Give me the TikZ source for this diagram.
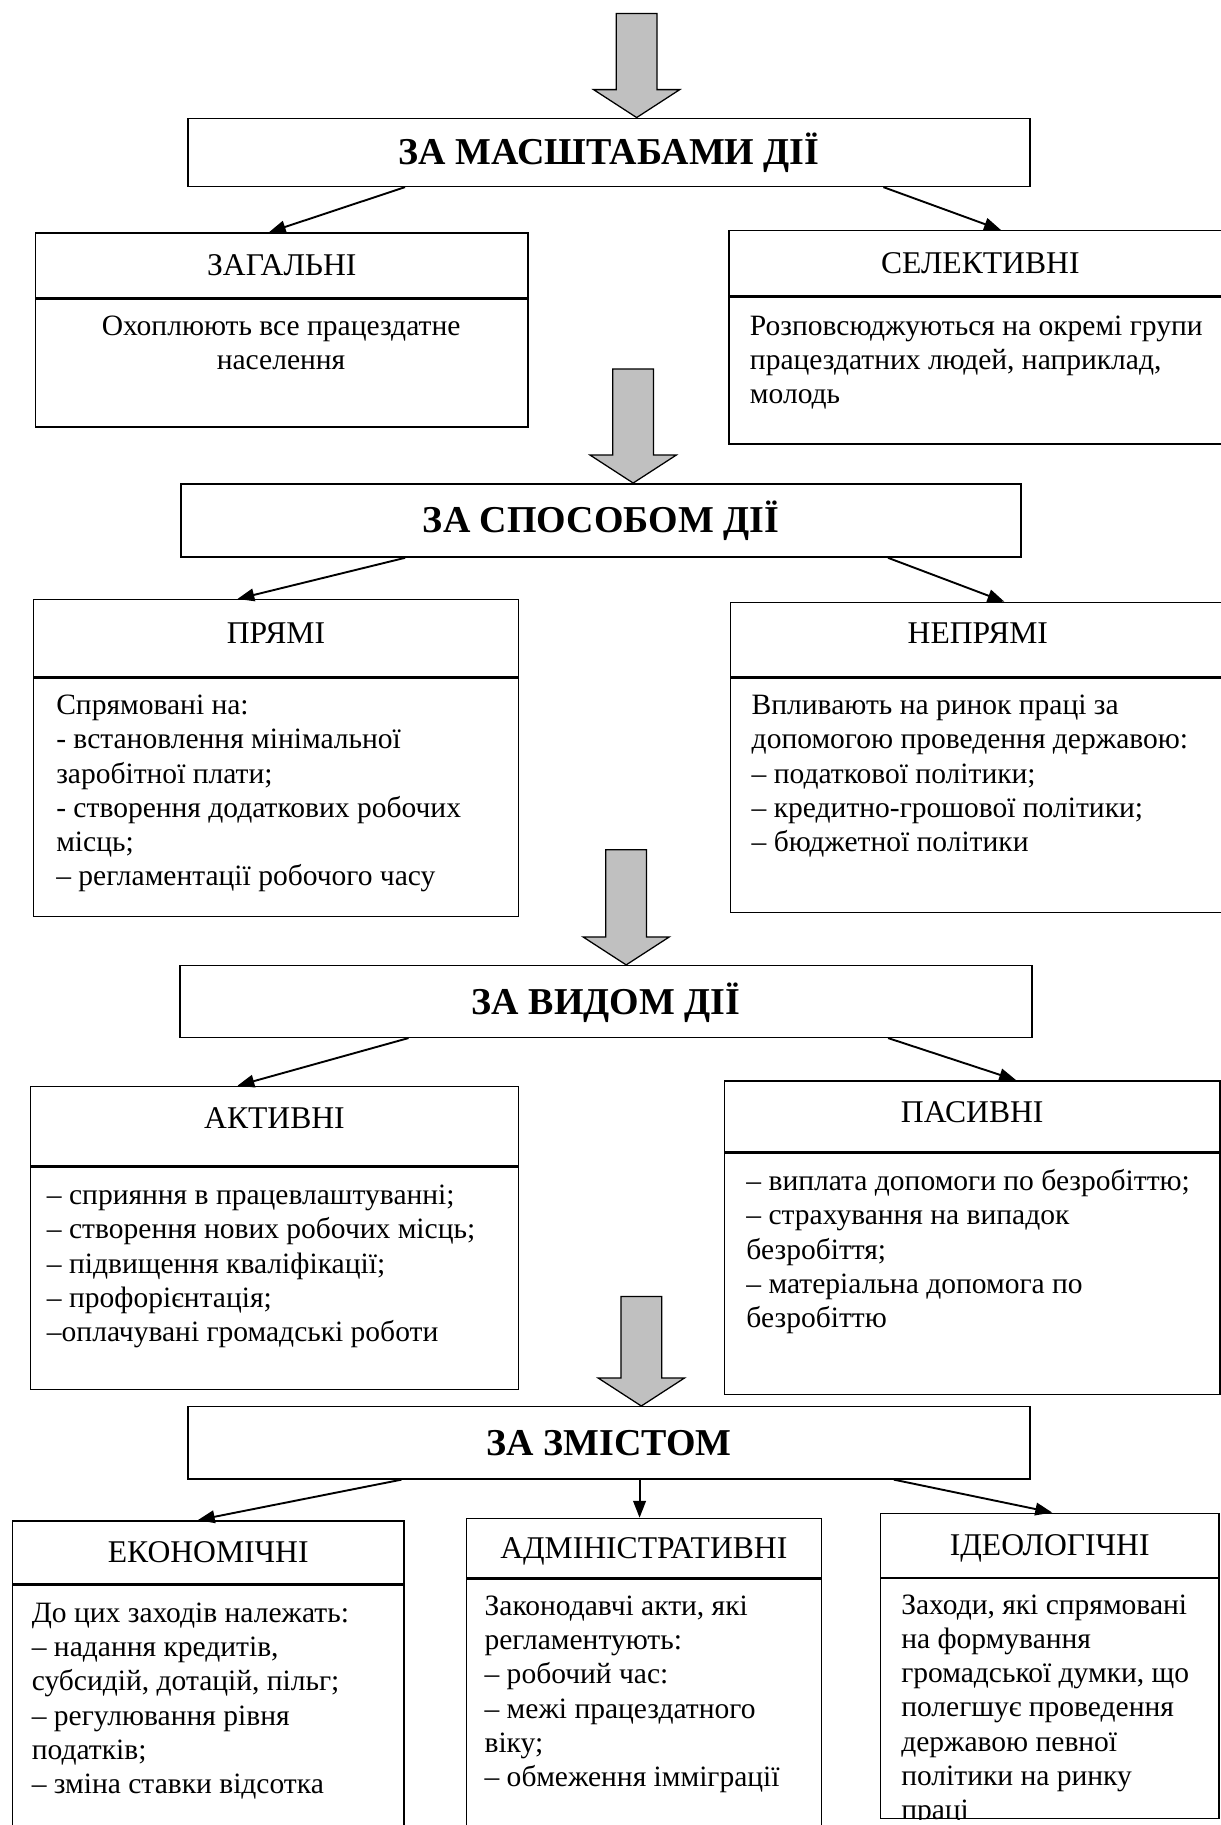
\documentclass[tikz,border=0pt]{standalone}
\usepackage{fontspec}
\setmainfont{Liberation Serif}
\usepackage{tikz}
\usetikzlibrary{arrows.meta,positioning}
\definecolor{arrgray}{RGB}{192,192,192}
\newlength{\px}
\setlength{\px}{0.552pt}
\newcommand{\grayarrow}[3]{%
  \draw[bigarr] (#1,0 |- #2.north) -- ++(-37,-24) -- ++(19.5,0) -- ++(0,{-(#3-24)})
    -- ++(35,0) -- ++(0,{#3-24}) -- ++(19.5,0) -- cycle;}

\begin{document}
\begin{tikzpicture}[
  x=0.552pt, y=-0.552pt,
  ttl/.style={
    draw,
    line width=0.7pt,
    anchor=north west,
    inner sep=0pt,
    text height=11.9pt,
    text depth=0pt,
    font=\bfseries\fontsize{18}{21}\selectfont
  },
  hdr/.style={
    draw,
    line width=0.7pt,
    anchor=north west,
    inner sep=0pt,
    text height=9.9pt,
    text depth=0pt,
    font=\fontsize{15}{17.3}\selectfont
  },
  bodybox/.style={draw, line width=0.7pt, inner sep=0pt},
  txt/.style={
    anchor=north west,
    inner sep=0pt,
    align=left,
    font=\fontsize{14}{16.2}\selectfont
  },
  conn/.style={-{Triangle[length=8pt,width=6pt]}, line width=0.9pt},
  bigarr/.style={draw, fill=arrgray, line width=0.6pt, line join=miter}
]
\path[use as bounding box, fill=white] (0,0) rectangle (1049,1568);

\node[ttl, minimum width=723.5\px, minimum height=58.5\px] (masht) at (161,101) {ЗА МАСШТАБАМИ ДІЇ};
\node[hdr, minimum width=423\px, minimum height=55.4\px] (zag) at (30,199.6) {ЗАГАЛЬНІ};
\node[bodybox, minimum width=423\px, minimum height=110\px, below=0pt of zag] (zagb) {};
\node[txt, align=center, anchor=north] (zagt) at (241.5,267) {\strut Охоплюють все працездатне\\населення};
\node[hdr, minimum width=432\px, minimum height=56\px] (sel) at (625.6,197.6) {СЕЛЕКТИВНІ};
\node[bodybox, minimum width=432\px, minimum height=126\px, below=0pt of sel] (selb) {};
\node[txt] (selt) at (644,267) {\strut Розповсюджуються на окремі групи\\працездатних людей, наприклад,\\молодь};

\node[ttl, minimum width=721.5\px, minimum height=63\px] (spos) at (155,415) {ЗА СПОСОБОМ ДІЇ};
\node[hdr, minimum width=417\px, minimum height=66\px, text depth=4.4pt] (pry) at (28,514.6) {ПРЯМІ};
\node[bodybox, minimum width=417\px, minimum height=205\px, below=0pt of pry] (pryb) {};
\node[txt] (pryt) at (48,593.2) {\strut Спрямовані на:\\- встановлення мінімальної\\заробітної плати;\\- створення додаткових робочих\\місць;\\– регламентації робочого часу};
\node[hdr, minimum width=425\px, minimum height=64\px, text depth=6pt] (nepr) at (627,517) {НЕПРЯМІ};
\node[bodybox, minimum width=425\px, minimum height=201\px, below=0pt of nepr] (neprb) {};
\node[txt] (neprt) at (645.5,593.2) {\strut Впливають на ринок праці за\\допомогою проведення державою:\\– податкової політики;\\– кредитно-грошової політики;\\– бюджетної політики};

\node[ttl, minimum width=732\px, minimum height=61.6\px] (vyd) at (154,829) {ЗА ВИДОМ ДІЇ};
\node[hdr, minimum width=419.6\px, minimum height=68.2\px, text depth=7.2pt] (akt) at (25.4,932.8) {АКТИВНІ};
\node[bodybox, minimum width=419.6\px, minimum height=191\px, below=0pt of akt] (aktb) {};
\node[txt] (aktt) at (40,1014.2) {\strut – сприяння в працевлаштуванні;\\– створення нових робочих місць;\\– підвищення кваліфікації;\\– профорієнтація;\\–оплачувані громадські роботи};
\node[hdr, minimum width=425.4\px, minimum height=61\px, text depth=3.9pt] (pas) at (622,928) {ПАСИВНІ};
\node[bodybox, minimum width=425.4\px, minimum height=207\px, below=0pt of pas] (pasb) {};
\node[txt] (past) at (641,1002.2) {\strut – виплата допомоги по безробіттю;\\– страхування на випадок\\безробіття;\\– матеріальна допомога по\\безробіттю};

\node[ttl, minimum width=723.5\px, minimum height=62\px] (zmist) at (161,1208) {ЗА ЗМІСТОМ};
\node[hdr, minimum width=336.5\px, minimum height=54.4\px] (ekon) at (10,1306) {ЕКОНОМІЧНІ};
\node[bodybox, minimum width=336.5\px, minimum height=240\px, below=0pt of ekon] (ekonb) {};
\node[txt] (ekont) at (27,1373.2) {\strut До цих заходів належать:\\– надання кредитів,\\субсидій, дотацій, пільг;\\– регулювання рівня\\податків;\\– зміна ставки відсотка};
\node[hdr, minimum width=305\px, minimum height=51\px] (adm) at (400,1304) {АДМІНІСТРАТИВНІ};
\node[bodybox, minimum width=305\px, minimum height=250\px, below=0pt of adm] (admb) {};
\node[txt] (admt) at (416,1367.2) {\strut Законодавчі акти, які\\регламентують:\\– робочий час:\\– межі працездатного\\віку;\\– обмеження імміграції};
\node[hdr, minimum width=290.5\px, minimum height=55\px] (ideol) at (756,1299.5) {ІДЕОЛОГІЧНІ};
\node[bodybox, minimum width=290.5\px, minimum height=206\px, below=0pt of ideol] (ideolb) {};
\begin{scope}
  \clip (ideolb.north west) rectangle (ideolb.south east);
  \node[txt] (ideolt) at (774,1366.2) {\strut Заходи, які спрямовані\\на формування\\громадської думки, що\\полегшує проведення\\державою певної\\політики на ринку\\праці};
\end{scope}

\draw[conn] (348,0 |- masht.south) -- (231,0 |- zag.north);
\draw[conn] (759,0 |- masht.south) -- (860,0 |- sel.north);
\draw[conn] (348,0 |- spos.south) -- (204,0 |- pry.north);
\draw[conn] (763,0 |- spos.south) -- (863,0 |- nepr.north);
\draw[conn] (351,0 |- vyd.south) -- (204,0 |- akt.north);
\draw[conn] (763,0 |- vyd.south) -- (873,0 |- pas.north);
\draw[conn] (345,0 |- zmist.south) -- (170,0 |- ekon.north);
\draw[conn] (549.5,0 |- zmist.south) -- (549.5,0 |- adm.north);
\draw[conn] (768,0 |- zmist.south) -- (904,0 |- ideol.north);

\grayarrow{547}{masht}{89.5}
\grayarrow{544}{spos}{98}
\grayarrow{538}{vyd}{99}
\grayarrow{551}{zmist}{94}
\end{tikzpicture}
\end{document}
